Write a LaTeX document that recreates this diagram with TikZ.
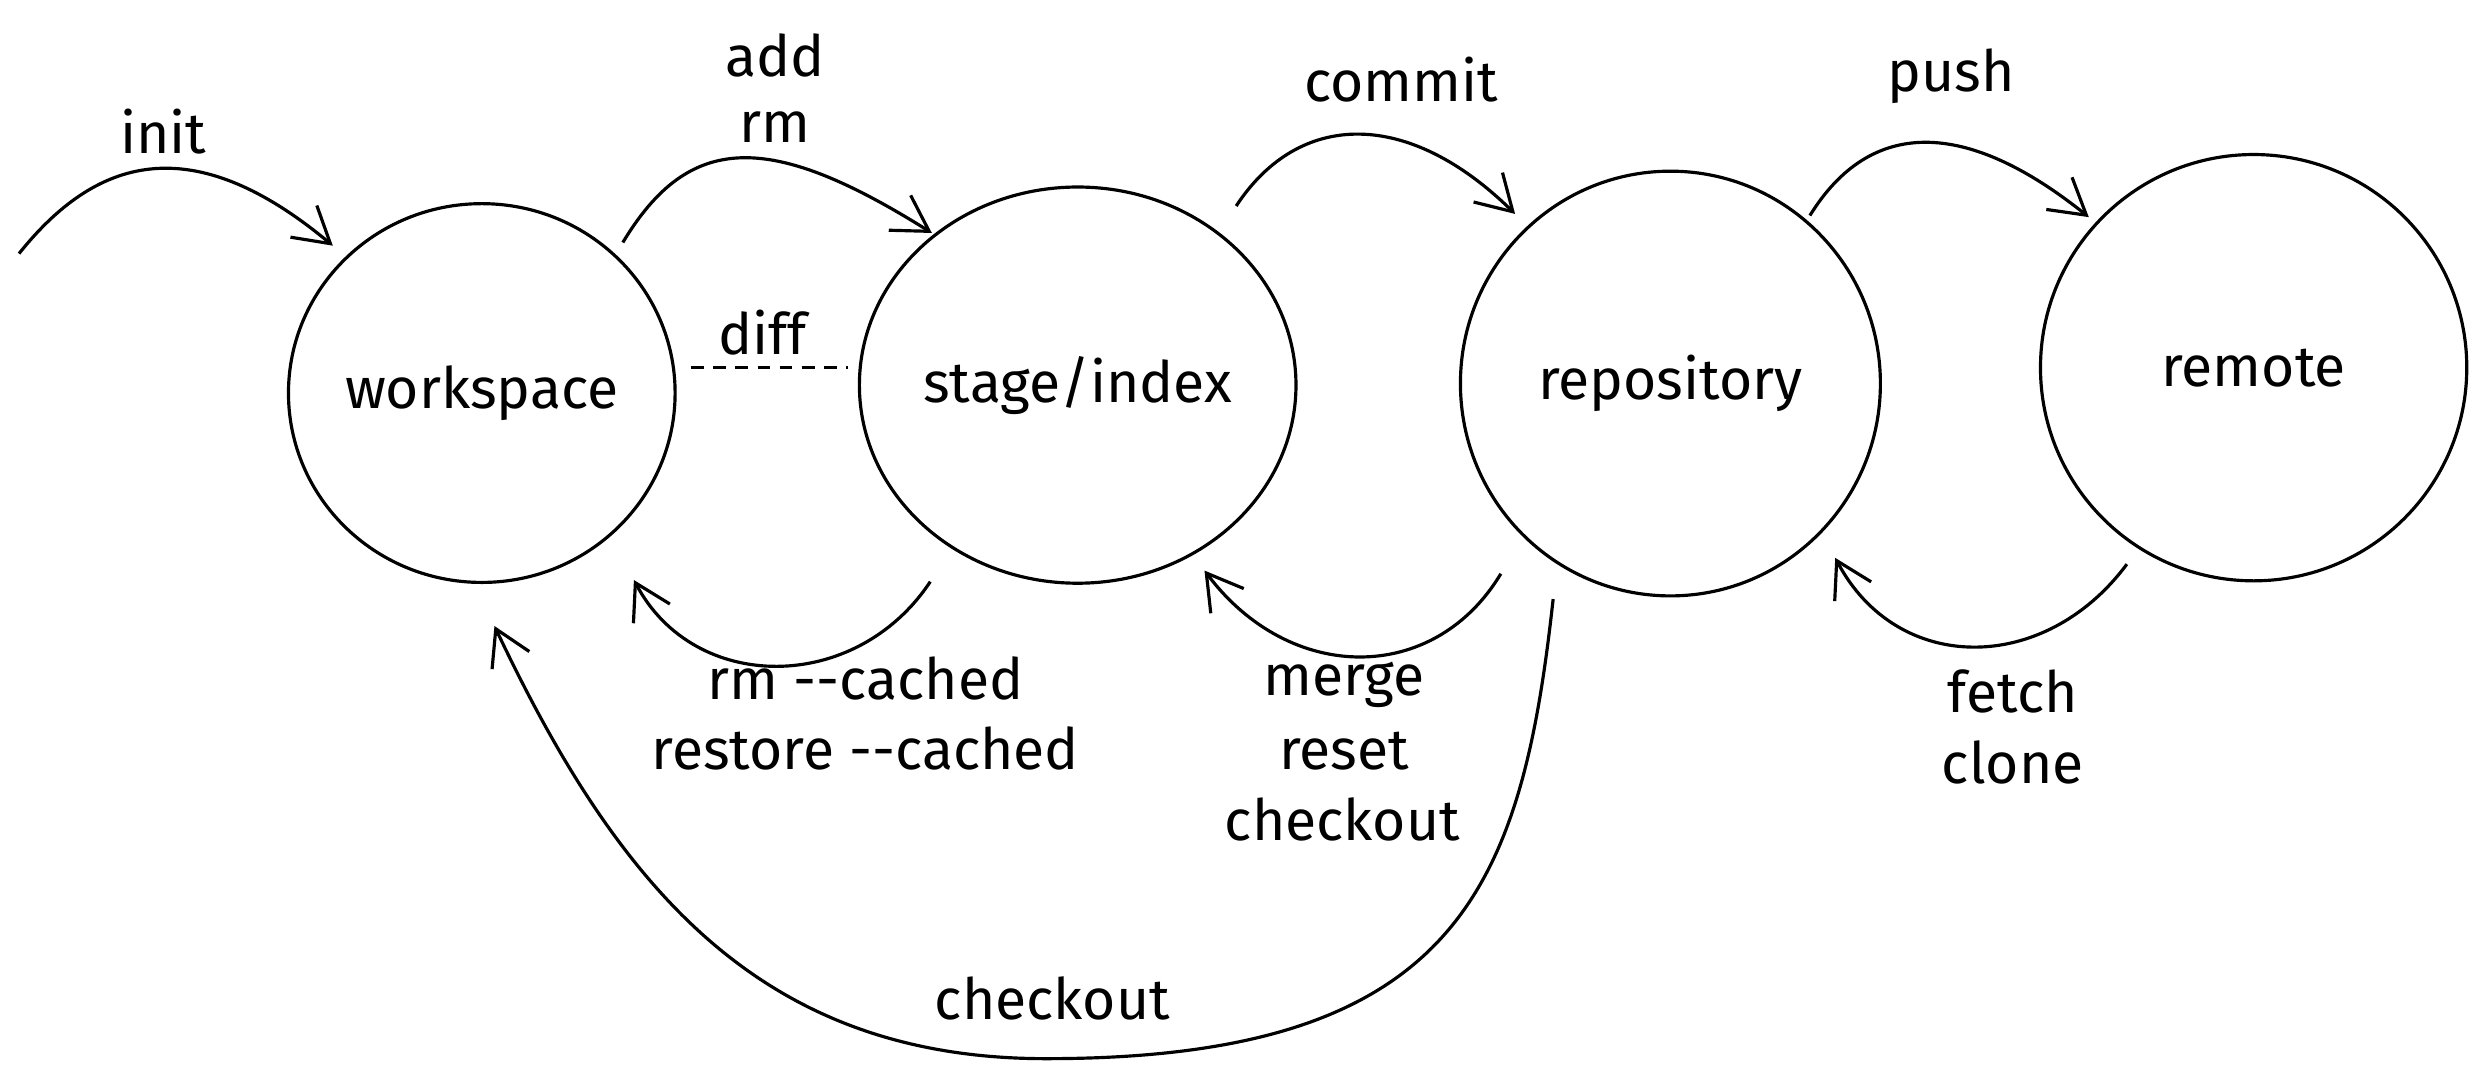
\documentclass[tikz,border=0pt]{standalone}
\usepackage{fontspec}
\setmainfont[Ligatures=NoCommon]{Fira Sans}
\usetikzlibrary{arrows.meta,shapes.geometric}
\begin{document}
\begin{tikzpicture}[x=0.5pt,y=-0.5pt,
  line width=1pt,
  stroke/.style={line width=1pt},
  arr/.style={stroke,-{Straight Barb[length=11pt,width=13pt,line width=1pt]}},
  state/.style={draw,ellipse,line width=1pt,inner sep=0pt,font=\fontsize{18}{22}\selectfont},
  lbl/.style={inner sep=0pt,font=\fontsize{18}{22}\selectfont,align=center}]
\useasboundingbox (0,0) rectangle (1568,680);
% states
\node[state,minimum width=238pt*0.5,minimum height=239pt*0.5] (ws) at (304,248) {workspace};
\node[state,minimum width=261pt*0.5,minimum height=250pt*0.5] (st) at (680,243) {stage/index};
\node[state,minimum width=265pt*0.5,minimum height=268pt*0.5] (rp) at (1054,242) {repository};
\node[state,minimum width=269pt*0.5,minimum height=269pt*0.5] (rm) at (1422,232) {remote};
% endpoints
\coordinate (i0) at (12,160);  \coordinate (i1) at (210,155);
\coordinate (a0) at (393,153); \coordinate (a1) at (588,147);
\coordinate (c0) at (780,130); \coordinate (c1) at (956,135);
\coordinate (p0) at (1142,136);\coordinate (p1) at (1318,137);
\coordinate (r0) at (587,367); \coordinate (r1) at (400,366);
\coordinate (m0) at (947,362); \coordinate (m1) at (760,360);
\coordinate (f0) at (1342,356);\coordinate (f1) at (1158,352);
\coordinate (k0) at (980,378); \coordinate (kb) at (660,668); \coordinate (k1) at (312,395);
\coordinate (d0) at (436,232); \coordinate (d1) at (535,232);
% connectors
\draw[arr] (i0) .. controls (60,100) and (120,80) .. (i1);
\draw[arr] (a0) .. controls (435,83) and (486,83) .. (a1);
\draw[arr] (c0) .. controls (820,69) and (889,69) .. (c1);
\draw[arr] (p0) .. controls (1180,74.5) and (1240,74.5) .. (p1);
\draw[arr] (r0) .. controls (540,438) and (438,438) .. (r1);
\draw[arr] (m0) .. controls (905,432) and (814,432) .. (m1);
\draw[arr] (f0) .. controls (1290,426) and (1197,426) .. (f1);
\draw[arr] (k0) .. controls (960,560) and (920,668) .. (kb)
               .. controls (480,668) and (390,560) .. (k1);
\draw[stroke,dash pattern=on 4pt off 3pt] (d0) -- (d1);
% labels
\node[lbl] (linit) at (103,83) {init};
\node[lbl] (ladd) at (489,35) {add};
\node[lbl] (lrm) at (489,80) {rm};
\node[lbl] (lcommit) at (884,50) {commit};
\node[lbl] (lpush) at (1231,48) {push};
\node[lbl] (ldiff) at (481,210) {diff};
\node[lbl] (lrc1) at (546,428) {rm -{}-cached};
\node[lbl] (lrc2) at (546,472) {restore -{}-cached};
\node[lbl] (lmerge) at (848,432) {merge};
\node[lbl] (lreset) at (848,474) {reset};
\node[lbl] (lcheck1) at (847,517) {checkout};
\node[lbl] (lfetch) at (1270,436) {fetch};
\node[lbl] (lclone) at (1270,481) {clone};
\node[lbl] (lcheck2) at (664,630) {checkout};
\end{tikzpicture}
\end{document}
